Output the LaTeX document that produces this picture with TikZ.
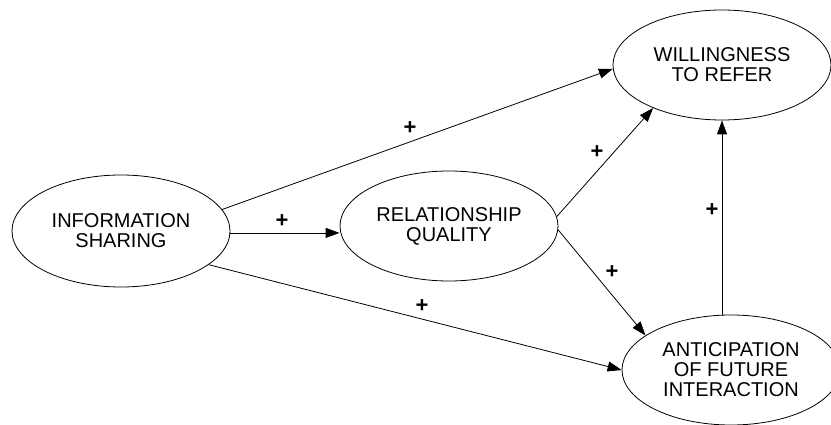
\documentclass[tikz,border=0pt]{standalone}
\usepackage{fontspec}
\setmainfont{Liberation Sans}
\usetikzlibrary{shapes.geometric,arrows.meta}

\tikzset{
  construct/.style={ellipse, draw, line width=0.8pt, inner sep=0pt,
    minimum width=218pt, minimum height=110pt, align=center,
    font=\fontsize{20}{20}\selectfont},
  path/.style={draw, line width=0.8pt,
    -{Triangle[length=14pt, width=10pt]}},
  sign/.style={font=\fontsize{22}{22}\selectfont\bfseries, inner sep=0pt}
}

\begin{document}
\begin{tikzpicture}[x=1pt, y=-1pt]
  \useasboundingbox (0,0) rectangle (831,425);

  % constructs
  \node[construct, minimum height=112pt] (info)  at (121,231) {INFORMATION\\SHARING};
  \node[construct] (rq)    at (449,226) {RELATIONSHIP\\QUALITY};
  \node[construct] (will)  at (722,65)  {WILLINGNESS\\TO REFER};
  \node[construct] (antic) at (731,370) {ANTICIPATION\\OF FUTURE\\INTERACTION};

  % hypothesised paths
  \draw[path] (info.12)    -- (will.182.6);
  \draw[path] (info.-1)    -- (rq.west |- info.-1);
  \draw[path] (info.-21.6) -- (antic.180);
  \draw[path] (rq.5)       -- (will.212.7);
  \draw[path] (rq.-2)      -- (antic.158.9);
  \draw[path] (will.south |- antic.north) -- (will.south);

  % signs of the effects
  \node[sign] (s1) at (410,128) {+};
  \node[sign] (s2) at (282,221) {+};
  \node[sign] (s3) at (422,306) {+};
  \node[sign] (s4) at (597,152) {+};
  \node[sign] (s5) at (612,272) {+};
  \node[sign] (s6) at (712,210) {+};
\end{tikzpicture}
\end{document}
